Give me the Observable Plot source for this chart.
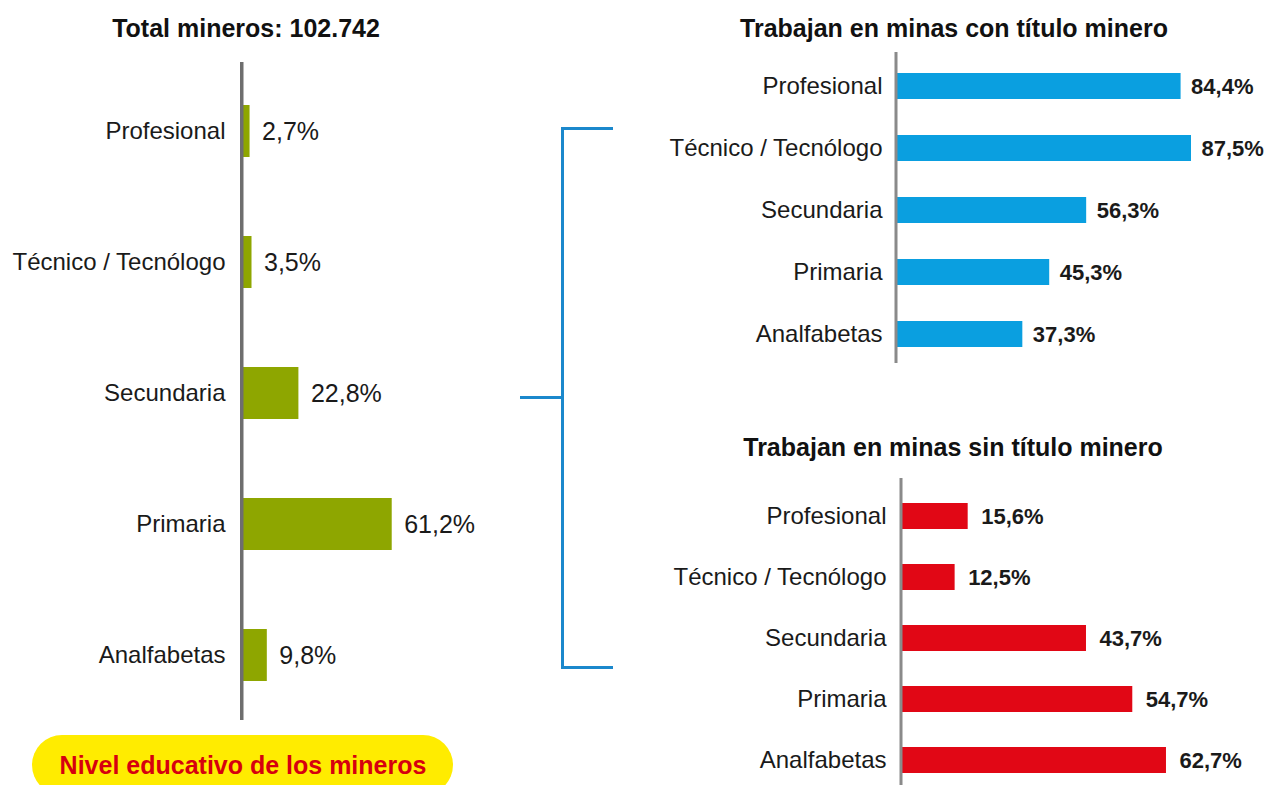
<!DOCTYPE html>
<html>
<head>
<meta charset="utf-8">
<script src="https://cdn.jsdelivr.net/npm/d3@7"></script>
<script src="https://cdn.jsdelivr.net/npm/@observablehq/plot@0.6"></script>
<style>
  html, body { margin: 0; padding: 0; background: #fff; overflow: hidden; }
  body { font-family: "Liberation Sans", Arial, sans-serif; }
  #page { position: relative; width: 1268px; height: 785px; }
  .title { position: absolute; font-weight: bold; font-size: 25px; color: #111; white-space: nowrap; transform: translate(-50%, -50%); }
  .pill { position: absolute; left: 32px; top: 735px; width: 421px; height: 60px; border-radius: 30px; background: #ffec00; }
  .pilltext { position: absolute; font-weight: bold; font-size: 25px; color: #d6000f; white-space: nowrap; transform: translate(-50%, -50%); }
  .br { position: absolute; background: #1b88cc; }
</style>
</head>
<body>
<div id="page"></div>
<script>
// ---- data ----
const categories = ["Profesional", "Técnico / Tecnólogo", "Secundaria", "Primaria", "Analfabetas"];
const totalShare = [2.7, 3.5, 22.8, 61.2, 9.8];
const conTitulo = [84.4, 87.5, 56.3, 45.3, 37.3];
const sinTitulo = [15.6, 12.5, 43.7, 54.7, 62.7];
const titleTotal = "Total mineros: 102.742";
const titleCon = "Trabajan en minas con título minero";
const titleSin = "Trabajan en minas sin título minero";
const footerLabel = "Nivel educativo de los mineros";

const fmt = v => v.toFixed(1).replace(".", ",") + "%";
const rows = vals => categories.map((c, i) => ({cat: c, value: vals[i]}));

const page = document.getElementById("page");
const font = "'Liberation Sans', Arial, sans-serif";

function barChart({data, left, top, width, height, marginLeft, marginTop, marginBottom, xRange, yRange,
                   paddingInner, paddingOuter, color, axisSize, valueSize, valueWeight, valueDx, tickPadding, ruleColor, ruleWidth}) {
  const chart = Plot.plot({
    width, height, marginLeft, marginTop, marginBottom, marginRight: 0,
    style: {background: "transparent", fontFamily: font, color: "#1a1a1a", overflow: "visible"},
    x: {domain: [0, 100], range: xRange, axis: null},
    y: {domain: categories, range: yRange, paddingInner, paddingOuter, label: null},
    marks: [
      Plot.barX(data, {x: "value", y: "cat", fill: color}),
      Plot.ruleX([0], {stroke: ruleColor, strokeWidth: ruleWidth, dx: -ruleWidth / 2}),
      Plot.axisY({tickSize: 0, tickPadding, fontSize: axisSize, label: null, fill: "#1a1a1a"}),
      Plot.text(data, {x: "value", y: "cat", text: d => fmt(d.value), dx: valueDx, textAnchor: "start",
                       fontSize: valueSize, fontWeight: valueWeight, fill: "#1a1a1a"})
    ]
  });
  chart.style.position = "absolute";
  chart.style.left = left + "px";
  chart.style.top = top + "px";
  page.appendChild(chart);
}

// left chart
barChart({
  data: rows(totalShare), left: 0, top: 0, width: 520, height: 785,
  marginLeft: 243, marginTop: 62, marginBottom: 65,
  xRange: [243, 486], yRange: [65.5, 720.5], paddingInner: 0.6, paddingOuter: 0.3,
  color: "#8ea600", axisSize: 24, valueSize: 25, valueWeight: "normal", valueDx: 12, tickPadding: 18,
  ruleColor: "#6e6e6e", ruleWidth: 3.5
});

// top right chart
barChart({
  data: rows(conTitulo), left: 540, top: 0, width: 728, height: 380,
  marginLeft: 357, marginTop: 52, marginBottom: 17,
  xRange: [357, 693], yRange: [55, 365], paddingInner: 0.58, paddingOuter: 0.29,
  color: "#0a9fe0", axisSize: 24, valueSize: 22, valueWeight: "bold", valueDx: 10, tickPadding: 15,
  ruleColor: "#8a8a8a", ruleWidth: 3
});

// bottom right chart
barChart({
  data: rows(sinTitulo), left: 540, top: 440, width: 728, height: 345,
  marginLeft: 362, marginTop: 38, marginBottom: 0,
  xRange: [362, 783], yRange: [44.4, 350.6], paddingInner: 0.58, paddingOuter: 0.29,
  color: "#e10715", axisSize: 24, valueSize: 22, valueWeight: "bold", valueDx: 13, tickPadding: 16,
  ruleColor: "#8a8a8a", ruleWidth: 3
});

// titles
function addTitle(text, x, y) {
  const d = document.createElement("div");
  d.className = "title";
  d.textContent = text;
  d.style.left = x + "px";
  d.style.top = y + "px";
  page.appendChild(d);
}
addTitle(titleTotal, 246, 28);
addTitle(titleCon, 954, 28);
addTitle(titleSin, 953, 447);

// footer pill
const pill = document.createElement("div");
pill.className = "pill";
page.appendChild(pill);
const pt = document.createElement("div");
pt.className = "pilltext";
pt.textContent = footerLabel;
pt.style.left = "243px";
pt.style.top = "765px";
page.appendChild(pt);

// bracket
function seg(l, t, w, h) {
  const d = document.createElement("div");
  d.className = "br";
  d.style.left = l + "px"; d.style.top = t + "px";
  d.style.width = w + "px"; d.style.height = h + "px";
  page.appendChild(d);
}
seg(561, 127, 52, 3);
seg(561, 127, 3, 542);
seg(561, 666, 52, 3);
seg(520, 396, 43, 3);
</script>
</body>
</html>
